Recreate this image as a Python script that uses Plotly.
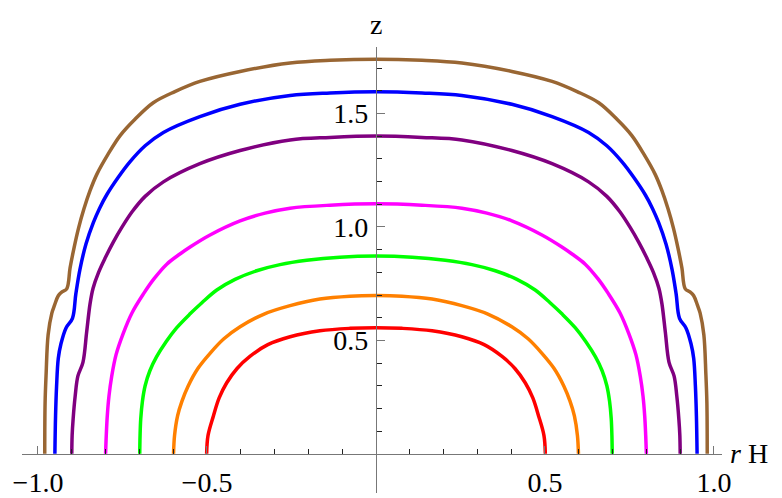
import plotly.graph_objects as go

# right-half profiles (r H, z), from the top (r=0) down to z=0
r_red = [0.0, 0.077, 0.166, 0.254, 0.320, 0.373, 0.411, 0.442, 0.464, 0.481, 0.497, 0.501]
z_red = [0.556, 0.553, 0.542, 0.516, 0.481, 0.429, 0.376, 0.312, 0.246, 0.167, 0.080, 0.0]

r_orange = [0.0, 0.077, 0.166, 0.254, 0.331, 0.402, 0.450, 0.491, 0.527, 0.556, 0.574, 0.587, 0.596, 0.599]
z_orange = [0.698, 0.695, 0.682, 0.653, 0.616, 0.560, 0.507, 0.443, 0.376, 0.298, 0.232, 0.167, 0.080, 0.0]

r_green = [0.0, 0.107, 0.205, 0.284, 0.353, 0.417, 0.471, 0.515, 0.550, 0.590, 0.621, 0.649,
           0.669, 0.683, 0.691, 0.696, 0.698, 0.699]
z_green = [0.872, 0.867, 0.853, 0.834, 0.807, 0.769, 0.722, 0.666, 0.617, 0.555, 0.494, 0.428,
           0.366, 0.300, 0.232, 0.154, 0.080, 0.0]

r_magenta = [0.0, 0.136, 0.254, 0.328, 0.402, 0.491, 0.550, 0.580, 0.619, 0.657, 0.688, 0.722,
             0.748, 0.769, 0.782, 0.790, 0.795, 0.798, 0.800]
z_magenta = [1.102, 1.096, 1.083, 1.061, 1.027, 0.965, 0.912, 0.881, 0.836, 0.771, 0.705, 0.621,
             0.530, 0.437, 0.341, 0.254, 0.167, 0.080, 0.0]

r_purple = [0.0, 0.136, 0.254, 0.402, 0.521, 0.629, 0.683, 0.721, 0.752, 0.778, 0.801, 0.821,
            0.837, 0.846, 0.856, 0.867, 0.882, 0.890, 0.896, 0.899, 0.900]
z_purple = [1.401, 1.395, 1.384, 1.337, 1.279, 1.199, 1.135, 1.068, 0.998, 0.931, 0.864, 0.799,
            0.730, 0.661, 0.537, 0.403, 0.342, 0.254, 0.154, 0.080, 0.0]

r_blue = [0.0, 0.136, 0.254, 0.402, 0.521, 0.629, 0.683, 0.728, 0.763, 0.797, 0.818, 0.836,
          0.858, 0.876, 0.888, 0.898, 0.917, 0.932, 0.940, 0.945, 0.948, 0.950]
z_blue = [1.596, 1.591, 1.580, 1.541, 1.487, 1.417, 1.358, 1.287, 1.218, 1.141, 1.082, 1.020,
          0.925, 0.812, 0.705, 0.597, 0.555, 0.485, 0.420, 0.298, 0.167, 0.0]

r_brown = [0.0, 0.136, 0.254, 0.402, 0.521, 0.595, 0.659, 0.713, 0.757, 0.793, 0.826, 0.846,
           0.864, 0.880, 0.893, 0.905, 0.915, 0.929, 0.940, 0.951, 0.959, 0.970, 0.976, 0.979, 0.980]
z_brown = [1.740, 1.735, 1.723, 1.686, 1.642, 1.597, 1.548, 1.475, 1.403, 1.320, 1.232, 1.160,
           1.080, 0.995, 0.910, 0.820, 0.727, 0.714, 0.697, 0.655, 0.620, 0.525, 0.350, 0.224, 0.0]

curves = [
    (r_red, z_red, "#FF0000"),
    (r_orange, z_orange, "#FF8000"),
    (r_green, z_green, "#00FF00"),
    (r_magenta, z_magenta, "#FF00FF"),
    (r_purple, z_purple, "#800080"),
    (r_blue, z_blue, "#0000FF"),
    (r_brown, z_brown, "#996633"),
]

x_ticks = [-1.0, -0.5, 0.5, 1.0]
x_ticktext = ["\u22121.0", "\u22120.5", "0.5", "1.0"]
y_ticks = [0.5, 1.0, 1.5]
y_ticktext = ["0.5", "1.0", "1.5"]
x_minor = [-1.0, -0.9, -0.8, -0.7, -0.6, -0.5, -0.4, -0.3, -0.2, -0.1,
           0.1, 0.2, 0.3, 0.4, 0.5, 0.6, 0.7, 0.8, 0.9, 1.0]
y_minor = [0.1, 0.2, 0.3, 0.4, 0.5, 0.6, 0.7, 0.8, 0.9, 1.0,
           1.1, 1.2, 1.3, 1.4, 1.5, 1.6, 1.7]

XR = [-1.0473, 1.0237]
YR = [-0.1731, 1.7937]

fig = go.Figure()
for r, z, col in curves:
    # mirror the right half onto the left (the profiles are symmetric)
    xs = [-v for v in r[::-1]] + r[1:]
    zs = z[::-1] + z[1:]
    fig.add_trace(go.Scatter(x=xs, y=zs, mode="lines",
                             line=dict(color=col, width=3.5, shape="spline", smoothing=1.0),
                             hoverinfo="skip"))

tick_font = dict(family="Liberation Serif", size=28, color="black")

# page body has an 8px margin, so the figure is 8px smaller than the window
fig.update_layout(
    width=774, height=490,
    margin=dict(l=14, r=60, t=39, b=0),
    paper_bgcolor="white", plot_bgcolor="white",
    showlegend=False,
    xaxis=dict(range=XR, anchor="free", position=(0 - YR[0]) / (YR[1] - YR[0]),
               showgrid=False, zeroline=False, showline=True, linecolor="#777", linewidth=1.2,
               tickmode="array", tickvals=x_ticks, ticktext=x_ticktext,
               ticks="inside", ticklen=8, tickcolor="#777", tickwidth=1,
               tickfont=tick_font, ticklabelstandoff=4,
               minor=dict(tickmode="array", tickvals=x_minor, ticks="inside",
                          ticklen=5, tickcolor="#222", tickwidth=1)),
    yaxis=dict(range=YR, anchor="free", position=(0 - XR[0]) / (XR[1] - XR[0]),
               showgrid=False, zeroline=False, showline=True, linecolor="#777", linewidth=1.2,
               tickmode="array", tickvals=y_ticks, ticktext=y_ticktext,
               ticks="inside", ticklen=8, tickcolor="#777", tickwidth=1,
               tickfont=tick_font, ticklabelstandoff=2,
               minor=dict(tickmode="array", tickvals=y_minor, ticks="inside",
                          ticklen=5, tickcolor="#222", tickwidth=1)),
    annotations=[
        dict(x=0.5057, y=1.051, xref="paper", yref="paper", text="z", showarrow=False,
             xanchor="center", yanchor="middle",
             font=dict(family="Liberation Serif", size=28, color="black")),
        dict(x=1.0086, y=0.0887, xref="paper", yref="paper", text="<i>r</i> H", showarrow=False,
             xanchor="left", yanchor="middle",
             font=dict(family="Liberation Serif", size=28, color="black")),
    ],
)

fig.write_html("out.html")
